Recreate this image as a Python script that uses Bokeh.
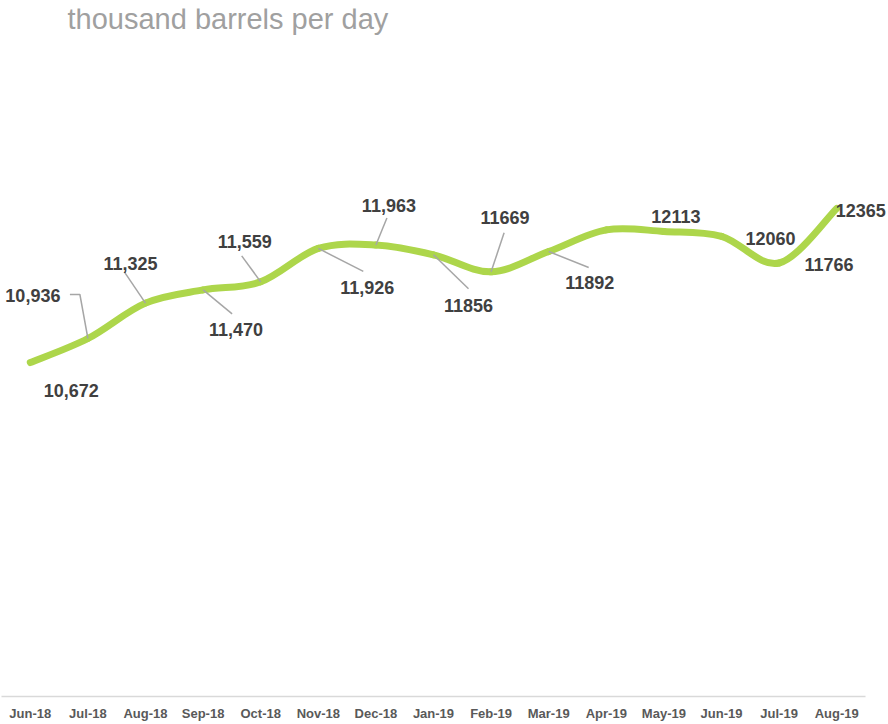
from bokeh.plotting import figure
from bokeh.models import ColumnDataSource, FixedTicker, Label, LabelSet, Range1d
from bokeh.core.properties import value
from bokeh.embed import file_html
from bokeh.resources import INLINE

# ---- data ----
months = ["Jun-18", "Jul-18", "Aug-18", "Sep-18", "Oct-18", "Nov-18", "Dec-18",
          "Jan-19", "Feb-19", "Mar-19", "Apr-19", "May-19", "Jun-19", "Jul-19", "Aug-19"]
production = [10672, 10936, 11325, 11470, 11559, 11926, 11963,
              11856, 11669, 11892, 12130, 12113, 12060, 11766, 12365]
value_labels = ["10,672", "10,936", "11,325", "11,470", "11,559", "11,926", "11,963",
                "11856", "11669", "11892", "", "12113", "12060", "11766", "12365"]
unit_title = "thousand barrels per day"

# ---- layout / style (label offsets in screen pixels, y down) ----
lab_dx = [41, -55, -15, 33, -16, 49, 13, 35, 14, 41, 0, 12, 49, 50, 24]
lab_dy = [28, -43, -40, 40, -40, 39, -40, 51, -54, 31, 0, -15, 2, 2, 2]
# leader line paths (pixel offsets from the point), None = no leader
leaders = [None,
           [(-8, -44), (-18, -44)],
           [(-21, -31)],
           [(29, 24)],
           [(-19, -26)],
           [(45, 23)],
           [(11, -27)],
           [(35, 34)],
           [(13, -39)],
           [(40, 16)],
           None, None, None, None, None]

STEP = 57.6
FW, FH = 887, 688
X0 = -0.5
X1 = X0 + FW / STEP
Y0, Y1 = 7000, 14564
px_x = FW / (X1 - X0)
px_y = FH / (Y1 - Y0)

GREEN = "#ADD64B"

p = figure(frame_width=FW, frame_height=FH, x_range=Range1d(X0, X1), y_range=Range1d(Y0, Y1),
           output_backend="svg", toolbar_location=None, y_axis_location=None,
           min_border_left=1, min_border_right=0, min_border_top=8, min_border_bottom=0)
p.outline_line_color = None
p.grid.visible = False
p.background_fill_color = "white"
p.border_fill_color = "white"

xs = list(range(len(months)))

# smooth line: Catmull-Rom converted to cubic Bezier segments
bx0, by0, bx1, by1, c0x, c0y, c1x, c1y = [], [], [], [], [], [], [], []
n = len(xs)
for i in range(n - 1):
    xa, ya = (xs[i - 1], production[i - 1]) if i > 0 else (xs[i], production[i])
    xb, yb = xs[i], production[i]
    xc, yc = xs[i + 1], production[i + 1]
    xd, yd = (xs[i + 2], production[i + 2]) if i + 2 < n else (xs[i + 1], production[i + 1])
    bx0.append(xb); by0.append(yb); bx1.append(xc); by1.append(yc)
    c0x.append(xb + (xc - xa) / 6.0); c0y.append(yb + (yc - ya) / 6.0)
    c1x.append(xc - (xd - xb) / 6.0); c1y.append(yc - (yd - yb) / 6.0)

p.bezier(x0=bx0, y0=by0, x1=bx1, y1=by1, cx0=c0x, cy0=c0y, cx1=c1x, cy1=c1y,
         line_color=GREEN, line_width=7, line_cap="round")

# leader lines
lx, ly = [], []
for i, path in enumerate(leaders):
    if path is None:
        continue
    px = [xs[i]] + [xs[i] + dx / px_x for dx, dy in path]
    py = [production[i]] + [production[i] - dy / px_y for dx, dy in path]
    lx.append(px); ly.append(py)
p.multi_line(xs=lx, ys=ly, line_color="#A6A6A6", line_width=1.5)

# data labels
src = ColumnDataSource(dict(x=xs, y=production, t=value_labels,
                            dx=lab_dx, dy=[-d for d in lab_dy]))
p.add_layout(LabelSet(x="x", y="y", text="t", x_offset="dx", y_offset="dy", source=src,
                      text_align="center", text_baseline="middle",
                      text_font=value("Liberation Sans"), text_font_style="bold",
                      text_font_size="18px", text_color="#404040"))

# unit title
p.add_layout(Label(x=66, y=FH - 10, x_units="screen", y_units="screen", text=unit_title,
                   text_font="Liberation Sans", text_font_size="29px", text_color="#A0A0A0",
                   text_baseline="alphabetic", text_align="left"))

ax = p.xaxis[0]
ax.ticker = FixedTicker(ticks=xs)
ax.bounds = (-0.5, len(months) - 0.5)
ax.major_label_overrides = {i: m for i, m in enumerate(months)}
ax.axis_line_color = "#D9D9D9"
ax.axis_line_width = 1.5
ax.major_tick_line_color = None
ax.minor_tick_line_color = None
ax.major_label_standoff = 3
ax.major_label_text_font = "Liberation Sans"
ax.major_label_text_font_style = "bold"
ax.major_label_text_font_size = "13px"
ax.major_label_text_color = "#595959"

open("out.html", "w").write(file_html(p, INLINE))
